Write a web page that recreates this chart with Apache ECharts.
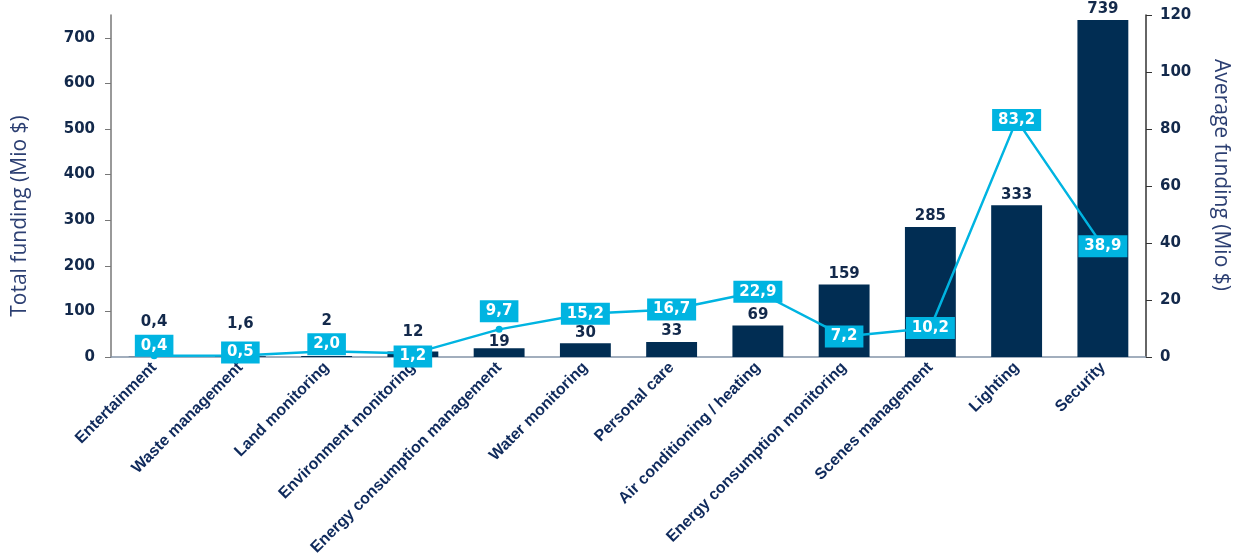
<!DOCTYPE html>
<html>
<head>
<meta charset="utf-8">
<script src="https://cdn.jsdelivr.net/npm/echarts@6/dist/echarts.min.js"></script>
<style>
  html, body { margin: 0; padding: 0; background: #fff; }
  #chart { width: 1239px; height: 559px; }
</style>
</head>
<body>
<div id="chart"></div>
<script>
var categories = ['Entertainment', 'Waste management', 'Land monitoring', 'Environment monitoring',
  'Energy consumption management', 'Water monitoring', 'Personal care', 'Air conditioning / heating',
  'Energy consumption monitoring', 'Scenes management', 'Lighting', 'Security'];
var totalFunding = [0.4, 1.6, 2, 12, 19, 30, 33, 69, 159, 285, 333, 739];
var averageFunding = [0.4, 0.5, 2.0, 1.2, 9.7, 15.2, 16.7, 22.9, 7.2, 10.2, 83.2, 38.9];
var leftTicks = [0, 100, 200, 300, 400, 500, 600, 700];

var navy = '#012d53';
var cyan = '#00b4e1';
var numFont = 'DejaVu Sans';

// lift the first bar labels so they clear the line boxes
var barLabelLift = [24, 22, 24, 9, -4, 0, 0, 0, 0, 0, 0, 0];
var lineLabelShift = [-10, -3, -7, 3, -18, 0, 0, 0, 0, 0, 0, 0];

function comma(v, digits) {
  return (digits == null ? String(v) : v.toFixed(digits)).replace('.', ',');
}

var chart = echarts.init(document.getElementById('chart'));
chart.setOption({
  animation: false,
  grid: { left: 111, right: 92, top: 15, bottom: 202 },
  xAxis: {
    type: 'category',
    data: categories,
    axisLine: { lineStyle: { color: '#8494a8', width: 1.5 } },
    axisTick: { show: false },
    axisLabel: {
      rotate: 45, interval: 0, margin: 8,
      color: '#0f2a5c', fontFamily: 'Liberation Sans', fontWeight: 'bold', fontSize: 16
    }
  },
  yAxis: [{
    type: 'value', min: 0, max: 750,
    name: 'Total funding (Mio $)', nameLocation: 'middle', nameGap: 80,
    nameTextStyle: { color: '#2c3f72', fontFamily: 'Open Sans', fontSize: 21, padding: [0, 60, 0, 0] },
    splitLine: { show: false },
    axisLine: { show: true, lineStyle: { color: '#777', width: 1.5 } },
    axisTick: { show: true, length: 6, customValues: leftTicks, lineStyle: { color: '#777' } },
    axisLabel: {
      customValues: leftTicks, margin: 16,
      color: '#13294b', fontFamily: numFont, fontWeight: 'bold', fontSize: 15
    }
  }, {
    type: 'value', min: 0, max: 120, interval: 20, position: 'right',
    name: 'Average funding (Mio $)', nameLocation: 'middle', nameGap: 64, nameRotate: -90,
    nameTextStyle: { color: '#2c3f72', fontFamily: 'Open Sans', fontSize: 21, padding: [0, 22, 0, 0] },
    splitLine: { show: false },
    axisLine: { show: true, lineStyle: { color: '#333', width: 1.5 } },
    axisTick: { show: true, length: 6, lineStyle: { color: '#333' } },
    axisLabel: {
      margin: 14, color: '#13294b', fontFamily: numFont, fontWeight: 'bold', fontSize: 15
    }
  }],
  series: [{
    type: 'bar',
    yAxisIndex: 0,
    barWidth: '59%',
    itemStyle: { color: navy },
    data: totalFunding.map(function (v, i) {
      return {
        value: v,
        label: { offset: [0, -barLabelLift[i]] }
      };
    }),
    label: {
      show: true, position: 'top', distance: 3,
      color: '#13294b', fontFamily: numFont, fontWeight: 'bold', fontSize: 15,
      formatter: function (p) { return comma(p.value); }
    }
  }, {
    type: 'line',
    yAxisIndex: 1,
    symbol: 'circle', symbolSize: 7,
    lineStyle: { color: cyan, width: 2.5 },
    itemStyle: { color: cyan },
    data: averageFunding.map(function (v, i) {
      return { value: v, label: { offset: [0, lineLabelShift[i]] } };
    }),
    label: {
      show: true, position: 'inside',
      backgroundColor: cyan, color: '#fff', padding: [4, 6, 3, 6],
      fontFamily: numFont, fontWeight: 'bold', fontSize: 15,
      formatter: function (p) { return comma(p.value, 1); }
    },
    z: 3
  }]
});
</script>
</body>
</html>
